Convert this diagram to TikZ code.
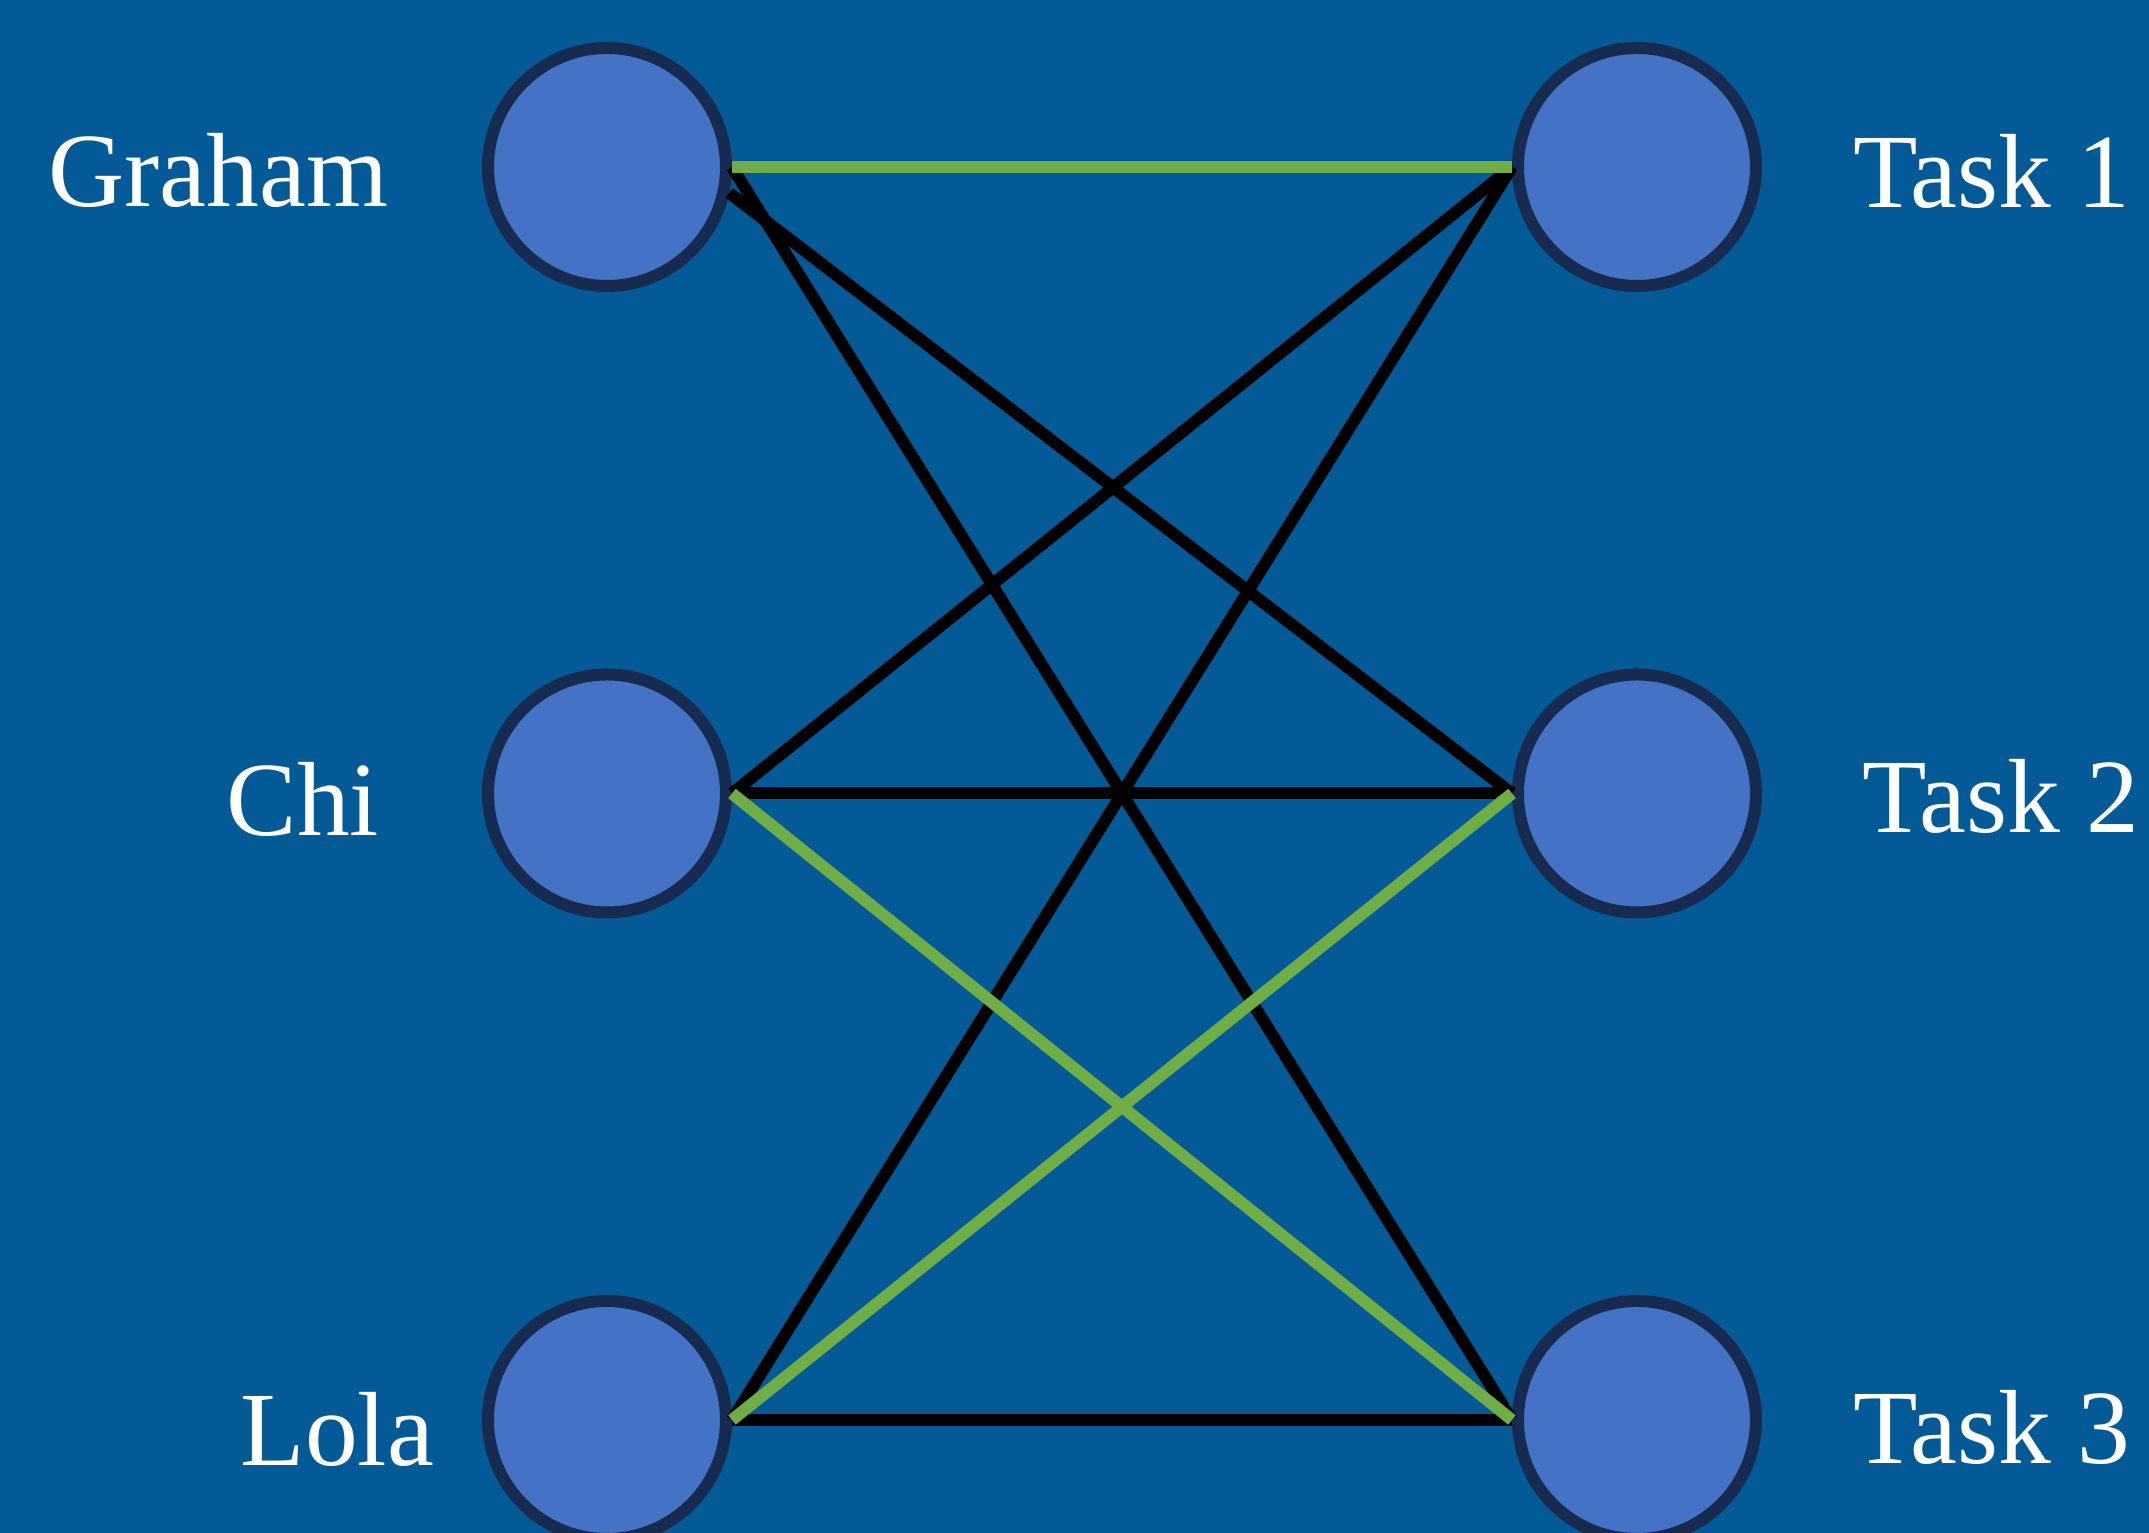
\documentclass[tikz,border=0pt]{standalone}
\usepackage{fontspec}
\setmainfont{Liberation Serif}
\usepackage{tikz}
\usetikzlibrary{positioning}
\definecolor{bgblue}{HTML}{045A96}
\definecolor{nodeblue}{HTML}{4472C4}
\definecolor{rimblue}{HTML}{172B50}
\definecolor{pickgreen}{HTML}{70AD47}

\begin{document}
\begin{tikzpicture}
        [person/.style={circle,draw=rimblue,fill=nodeblue,line width=0.12cm,minimum size=2.38cm,inner sep=0},
        task/.style={circle,draw=rimblue,fill=nodeblue,line width=0.12cm,minimum size=2.38cm,inner sep=0},
        nametag/.style={text=white,inner sep=0,anchor=base west,font=\fontsize{30}{36}\selectfont},
        option/.style={draw=black,line width=0.12cm},
        chosen/.style={draw=pickgreen,line width=0.12cm}]

% Background %
\fill[bgblue] (0,0) rectangle (21.49,15.33);
\useasboundingbox (0,0) rectangle (21.49,15.33);

% People %
 \begin{scope}[node distance=3.765]
                \node[person] (p1) at (6.07,13.66) {};
                \node[person] (p2) [below=of p1] {};
                \node[person] (p3) [below=of p2] {};
\end{scope}

% Tasks %
 \foreach \a in {1,2,3} {\node[task,node distance=7.8] (t\a) [right=of p\a] {};}

% Names %
\node[nametag] (n1) at (0.48,13.26) {Graham};
\node[nametag] (n2) at (2.26,6.97) {Chi};
\node[nametag] (n3) at (2.40,0.67) {Lola};
\node[nametag] (m1) at (18.53,13.25) {Task 1};
\node[nametag] (m2) at (18.62,7.00) {Task 2};
\node[nametag] (m3) at (18.53,0.69) {Task 3};

% Options %
\path (p1.-12) edge [option] (t2.west);
\path (p1.east) edge [option] (t3.west);
\foreach \a in {1,2}
	\path (p\a.east) edge [option] (t\a.west);
\path (p2.east) edge [option] (t1.west);
\path (p3.east) edge [option] (t1.west);
\path (p3.east) edge [option] (t3.west);

% Chosen %
\path (p1.east) edge [chosen] (t1.west);
\path (p2.east) edge [chosen] (t3.west);
\path (p3.east) edge [chosen] (t2.west);
\end{tikzpicture}
\end{document}
